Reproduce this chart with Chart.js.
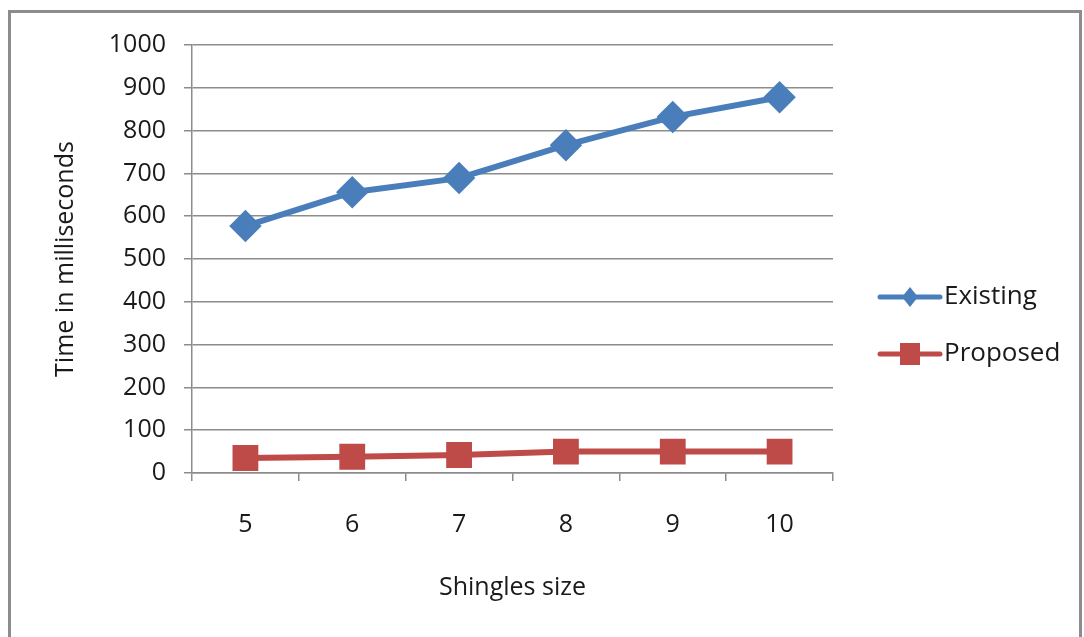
<!DOCTYPE html>
<html>
<head>
<meta charset="utf-8">
<script src="https://cdn.jsdelivr.net/npm/chart.js@4/dist/chart.umd.min.js"></script>
<style>
  html, body { margin: 0; padding: 0; background: #fff; }
  #wrap { width: 1084px; height: 637px; position: relative; }
</style>
</head>
<body>
<div id="wrap"><canvas id="canvas"></canvas></div>
<script>
// data
var sizes = ['5', '6', '7', '8', '9', '10'];
var existing = [577, 656, 689, 766, 832, 878];
var proposed = [35, 38, 42, 50, 50, 50];
var yTicks = [0, 100, 200, 300, 400, 500, 600, 700, 800, 900, 1000];

var blue = '#4A7EBB';
var red = '#BE4B48';
var fontName = "'Open Sans', 'Noto Sans', sans-serif";
var textColor = '#1a1a1a';

// frame round the chart + legend on the right
var extras = {
  id: 'extras',
  beforeDraw: function(chart) {
    var ctx = chart.ctx;
    ctx.save();
    ctx.fillStyle = '#fff';
    ctx.fillRect(0, 0, chart.width, chart.height);
    ctx.strokeStyle = '#8c8c8c';
    ctx.lineWidth = 3;
    ctx.strokeRect(9.5, 11.5, 1071, 660);
    ctx.restore();
  },
  afterDraw: function(chart) {
    var ctx = chart.ctx;
    ctx.save();
    chart.data.datasets.forEach(function(ds, i) {
      var y = 297 + i * 57;
      ctx.strokeStyle = ds.borderColor;
      ctx.lineWidth = 5;
      ctx.lineCap = 'round';
      ctx.beginPath();
      ctx.moveTo(880, y);
      ctx.lineTo(940, y);
      ctx.stroke();
      ctx.fillStyle = ds.backgroundColor;
      ctx.beginPath();
      if (ds.pointStyle === 'rectRot') {
        ctx.moveTo(910, y - 10); ctx.lineTo(918, y); ctx.lineTo(910, y + 10); ctx.lineTo(902, y);
      } else {
        ctx.rect(900, y - 11, 20, 22);
      }
      ctx.closePath();
      ctx.fill();
      ctx.fillStyle = textColor;
      ctx.font = '26px ' + fontName;
      ctx.textBaseline = 'middle';
      ctx.fillText(ds.label, 944, y);
    });
    ctx.restore();
  }
};

var config = {
  type: 'line',
  data: {
    labels: sizes,
    datasets: [{
      label: 'Existing',
      data: existing,
      borderColor: blue,
      backgroundColor: blue,
      borderWidth: 6,
      pointStyle: 'rectRot',
      pointRadius: 12,
      pointHoverRadius: 12,
      tension: 0
    }, {
      label: 'Proposed',
      data: proposed,
      borderColor: red,
      backgroundColor: red,
      borderWidth: 6,
      pointStyle: 'rect',
      pointRadius: 14,
      pointHoverRadius: 14,
      tension: 0
    }]
  },
  options: {
    responsive: true,
    maintainAspectRatio: false,
    animation: false,
    layout: { padding: { left: 0, right: 251, top: 45, bottom: 0 } },
    plugins: {
      legend: { display: false },
      title: { display: false },
      tooltip: { enabled: false }
    },
    scales: {
      x: {
        offset: true,
        grid: { display: true, drawOnChartArea: false, drawTicks: true, tickLength: 8, offset: true, color: '#8c8c8c', lineWidth: 1.5 },
        border: { display: true, color: '#8c8c8c', width: 1.5 },
        ticks: { color: textColor, font: { family: fontName, size: 25 }, padding: 29, maxRotation: 0 },
        title: { display: true, text: 'Shingles size', color: textColor, font: { family: fontName, size: 25 }, padding: { top: 0, bottom: 34 } },
        afterFit: function(scale) { scale.height = 164; }
      },
      y: {
        min: 0,
        max: 1000,
        afterBuildTicks: function(scale) {
          scale.ticks = yTicks.map(function(v) { return { value: v }; });
        },
        grid: { color: '#8c8c8c', lineWidth: 1.5, tickLength: 8 },
        border: { display: true, color: '#8c8c8c', width: 1.5 },
        ticks: {
          color: textColor, font: { family: fontName, size: 25 }, padding: 18,
          callback: function(v) { return String(v); }
        },
        title: { display: true, text: 'Time in milliseconds', color: textColor, font: { family: fontName, size: 25 }, padding: { top: 51, bottom: 0 } },
        afterFit: function(scale) { scale.width = 192; }
      }
    }
  },
  plugins: [extras]
};

var ctx = document.getElementById('canvas').getContext('2d');
window.myLine = new Chart(ctx, config);
</script>
</body>
</html>
